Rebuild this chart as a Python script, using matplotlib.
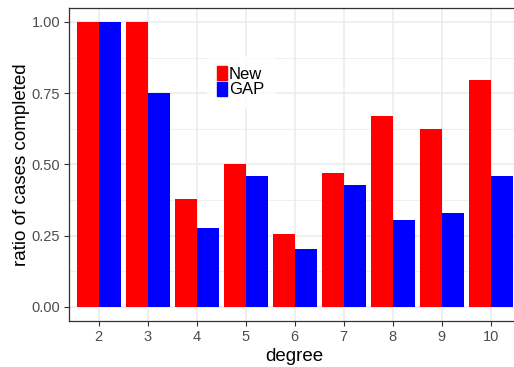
import numpy as np
import matplotlib
matplotlib.use("Agg")
import matplotlib.pyplot as plt
from matplotlib.patches import Patch

plt.rcParams['font.family'] = ['Liberation Sans', 'DejaVu Sans']

degree = [2, 3, 4, 5, 6, 7, 8, 9, 10]
new_ratio = [1.0, 1.0, 0.38, 0.50, 0.257, 0.471, 0.671, 0.625, 0.797]
gap_ratio = [1.0, 0.75, 0.278, 0.46, 0.204, 0.429, 0.306, 0.331, 0.46]
yticks = [0.0, 0.25, 0.5, 0.75, 1.0]

fig = plt.figure(figsize=(5.14, 3.67), dpi=100)
# panel runs a bit past the right edge of the image, like the original
ax = fig.add_axes([0.1348, 0.125, 0.877, 0.854])

x = np.array(degree)
w = 0.45
ax.bar(x - w / 2, new_ratio, width=w, color='#FF0000', zorder=3)
ax.bar(x + w / 2, gap_ratio, width=w, color='#0000FF', zorder=3)

ax.set_xlim(1.4, 10.6)
ax.set_ylim(-0.05, 1.05)
ax.set_xticks(x)
ax.set_xticklabels([str(d) for d in degree])
ax.set_yticks(yticks)
ax.set_yticklabels(['%.2f' % v for v in yticks])
ax.set_yticks([0.125, 0.375, 0.625, 0.875], minor=True)

ax.grid(True, which='major', color='#EBEBEB', linewidth=1.1, zorder=0)
ax.grid(True, which='minor', axis='y', color='#EBEBEB', linewidth=0.55, zorder=0)
ax.set_axisbelow(True)
ax.tick_params(which='major', colors='#333333', labelcolor='#4D4D4D',
               labelsize=10.5, length=3.6, width=0.8, pad=3)
ax.tick_params(which='minor', length=0)
for s in ax.spines.values():
    s.set_color('#333333')
    s.set_linewidth(0.9)
ax.spines['right'].set_visible(False)

ax.set_xlabel('degree', fontsize=13.5, labelpad=3)
ax.set_ylabel('ratio of cases completed', fontsize=13.5, labelpad=1)

handles = [Patch(color='#FF0000', label='New'), Patch(color='#0000FF', label='GAP')]
leg = fig.legend(handles=handles, loc='upper left', bbox_to_anchor=(0.387, 0.87),
                 frameon=True, fancybox=False, fontsize=12,
                 handlelength=0.6, handleheight=0.9, handletextpad=0.1,
                 labelspacing=0.0, borderpad=0.6)
leg.get_frame().set_facecolor('white')
leg.get_frame().set_edgecolor('white')

fig.savefig('out.png', dpi=100)
